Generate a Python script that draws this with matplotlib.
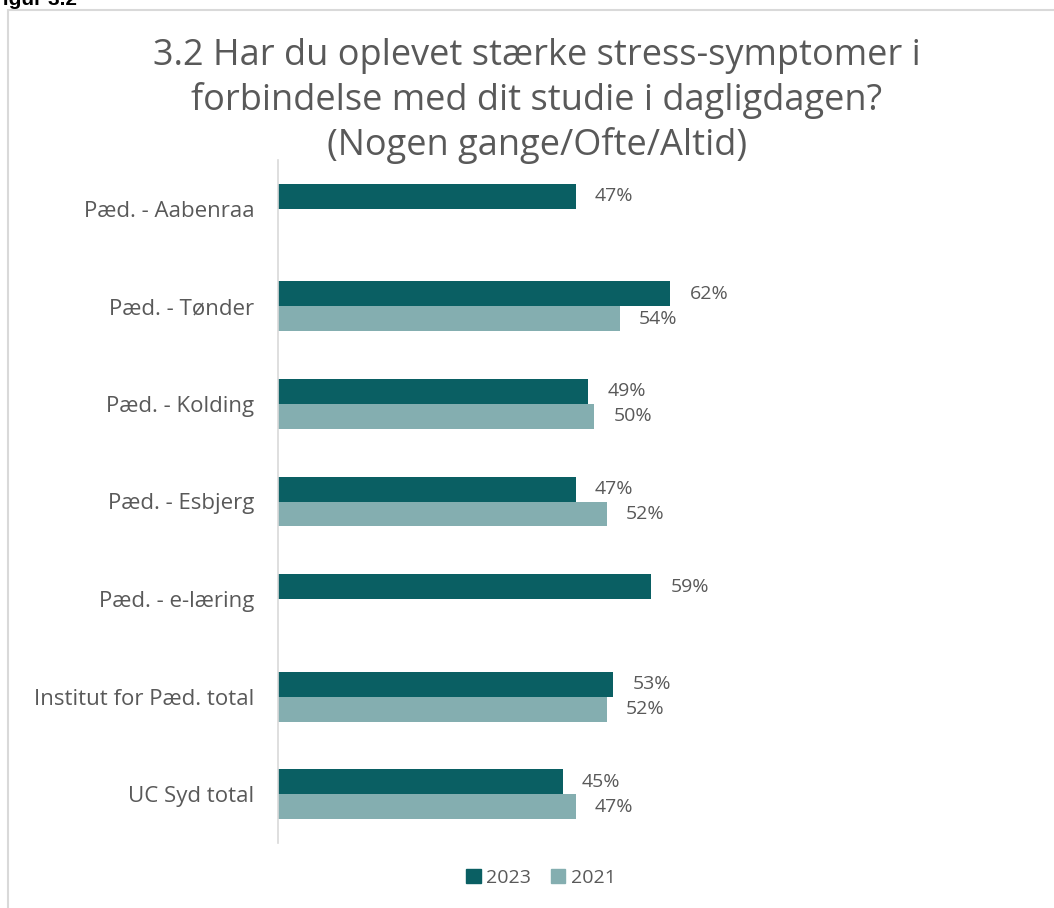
import matplotlib.pyplot as plt
from matplotlib.patches import Rectangle, Patch
import numpy as np

plt.rcParams['font.family'] = ['Open Sans', 'DejaVu Sans']

TITLE = "3.2 Har du oplevet stærke stress-symptomer i\nforbindelse med dit studie i dagligdagen?\n(Nogen gange/Ofte/Altid)"
CATS = ["Pæd. - Aabenraa", "Pæd. - Tønder", "Pæd. - Kolding", "Pæd. - Esbjerg",
        "Pæd. - e-læring", "Institut for Pæd. total", "UC Syd total"]
Y2023 = [0.47, 0.62, 0.49, 0.47, 0.59, 0.53, 0.45]
Y2021 = [None, 0.54, 0.50, 0.52, None, 0.52, 0.47]
SERIES = ["2023", "2021"]

C23, C21 = "#0a5f63", "#84aeb0"
GREY = "#595959"

W, H = 1054, 908
fig = plt.figure(figsize=(W / 100, H / 100), dpi=100)

# frame of the chart object
fig.patches.append(Rectangle((8 / W, -0.05), 1.1, 1 - 10 / H + 0.05, transform=fig.transFigure,
                             fill=False, ec="#d9d9d9", lw=1.5))
fig.text(77 / W, 1 - 5 / H, "Figur 3.2", ha="right", va="baseline", fontsize=15,
         fontweight="bold", family="Liberation Sans", color="black")

x0, x1 = 278, 278 + 0.75 * 633
y_top, y_bot = 160, 843
ax = fig.add_axes([x0 / W, 1 - y_bot / H, (x1 - x0) / W, (y_bot - y_top) / H])

n = len(CATS)
pos = np.arange(n)
bh = 25 / 98
ax.barh(pos - bh / 2, Y2023, height=bh, color=C23, label=SERIES[0])
v21 = [v if v is not None else 0 for v in Y2021]
ax.barh(pos + bh / 2, v21, height=bh, color=C21, label=SERIES[1])
for i in range(n):
    ax.text(Y2023[i] + 0.03, pos[i] - bh / 2, f"{Y2023[i]*100:.0f}%", va="center", ha="left",
            fontsize=14, color=GREY)
    if Y2021[i] is not None:
        ax.text(Y2021[i] + 0.03, pos[i] + bh / 2, f"{Y2021[i]*100:.0f}%", va="center", ha="left",
                fontsize=14, color=GREY)

ax.set_xlim(0, 0.75)
ax.set_ylim(n - 0.5, -0.5)
ax.set_yticks(pos)
ax.set_yticklabels(CATS, fontsize=16, color=GREY)
ax.tick_params(axis="y", length=0, pad=17)
ax.set_xticks([])
for s in ["top", "right", "bottom"]:
    ax.spines[s].set_visible(False)
ax.spines["left"].set_color("#d9d9d9")
ax.spines["left"].set_linewidth(1.2)

fig.text(537 / W, 1 - 101 / H, TITLE, ha="center", va="center", fontsize=26, color=GREY,
         linespacing=1.3)

handles = [Patch(color=C23), Patch(color=C21)]
fig.legend(handles, SERIES, loc="center", bbox_to_anchor=(541 / W, 1 - 878 / H), ncol=2,
           frameon=False, fontsize=14, handlelength=0.75, handleheight=0.75, handletextpad=0.3,
           columnspacing=1.0, labelcolor=GREY)

fig.savefig("out.png", dpi=100)
